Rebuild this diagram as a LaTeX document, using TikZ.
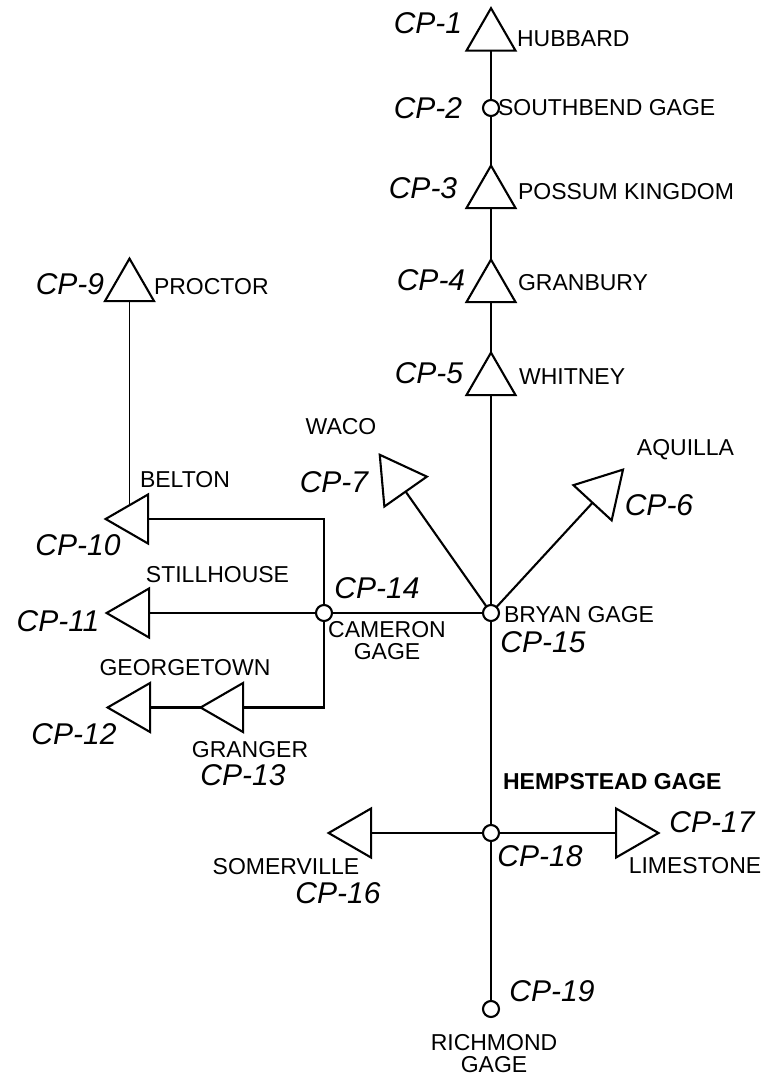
\documentclass[tikz,border=0pt]{standalone}
\usepackage{fontspec}
\setmainfont{Liberation Sans}
\usetikzlibrary{shapes.geometric}
\begin{document}
\begin{tikzpicture}[x=1pt,y=1pt,line width=2.1pt,
  res/.style={draw, regular polygon, regular polygon sides=3, minimum size=56.6pt, inner sep=0pt, outer sep=0pt},
  resd/.style={res, minimum size=60pt},
  gage/.style={draw, circle, minimum size=16pt, inner sep=0pt, outer sep=0pt, fill=white},
  nm/.style={font=\fontsize{23}{22}\selectfont, inner sep=0pt, align=center},
  nmb/.style={nm, font=\fontsize{23}{22}\selectfont\bfseries},
  cp/.style={font=\fontsize{30}{30}\selectfont\itshape, inner sep=0pt},
  conn/.style={line width=2.1pt}]
\useasboundingbox (0,0) rectangle (768,-1079);

% reservoirs (triangles) and gages (circles)
\node[res] (cp1) at (491,-36.5) {};
\node[gage] (cp2) at (491,-108) {};
\node[res] (cp3) at (491,-193.9) {};
\node[res] (cp4) at (491,-287.9) {};
\node[res] (cp5) at (491,-380.9) {};
\node[resd, rotate=-42.6] (cp6) at (602.7,-491.7) {};
\node[resd, rotate=35.1] (cp7) at (397,-479.3) {};
\node[res] (cp9) at (129.5,-286.9) {};
\node[res, rotate=90] (cp10) at (133.9,-519) {};
\node[res, rotate=90] (cp11) at (134.9,-613) {};
\node[res, rotate=90] (cp12) at (135.9,-707.5) {};
\node[res, rotate=90] (cp13) at (228.9,-707.5) {};
\node[gage] (cp14) at (324,-613) {};
\node[gage] (cp15) at (491,-613) {};
\node[res, rotate=90] (cp16) at (356.9,-833) {};
\node[res, rotate=-90] (cp17) at (630.2,-833) {};
\node[gage] (cp18) at (491,-833) {};
\node[gage] (cp19) at (491,-1009) {};
\coordinate (b10) at (129.5,-505.2);

% connectors
\draw[conn] (cp1) -- (cp2);
\draw[conn] (cp2) -- (cp3);
\draw[conn] (cp3) -- (cp4);
\draw[conn] (cp4) -- (cp5);
\draw[conn] (cp5) -- (cp15);
\draw[conn] (cp15) -- (cp18);
\draw[conn] (cp18) -- (cp19);
\draw[conn] (cp15) -- (cp7);
\draw[conn] (cp15) -- (cp6);
\draw[conn] (cp15) -- (cp14);
\draw[conn] (cp14) -- (cp11);
\draw[conn] (cp14) -- (cp14 |- cp10) -- (cp10);
\draw[conn] (cp14) -- (cp14 |- cp13) -- (cp13);
\draw[conn] (cp13) -- (cp12);
\draw[conn, line width=1.6pt] (cp9) -- (b10);
\draw[conn] (cp18) -- (cp16);
\draw[conn] (cp18) -- (cp17);

% labels
\node[cp] (l1) at (428,-23) {CP-1};
\node[nm, anchor=west] (n1) at (516,-39) {HUBBARD};
\node[cp] (l2) at (428,-108) {CP-2};
\node[nm, anchor=west] (n2) at (497,-108) {SOUTHBEND GAGE};
\node[cp] (l3) at (423,-188) {CP-3};
\node[nm, anchor=west] (n3) at (517,-192) {POSSUM KINGDOM};
\node[cp] (l4) at (431,-280) {CP-4};
\node[nm, anchor=west] (n4) at (517,-283) {GRANBURY};
\node[cp] (l5) at (429,-373) {CP-5};
\node[nm, anchor=west] (n5) at (518,-377) {WHITNEY};
\node[cp] (l9) at (70,-284) {CP-9};
\node[nm, anchor=west] (n9) at (153,-287) {PROCTOR};
\node[nm] (n7) at (341,-427) {WACO};
\node[cp] (l7) at (334,-482) {CP-7};
\node[nm] (n6) at (685.5,-450) {AQUILLA};
\node[cp] (l6) at (659,-505) {CP-6};
\node[nm] (n10) at (185,-480) {BELTON};
\node[cp] (l10) at (78,-545) {CP-10};
\node[nm] (n11) at (217.5,-575) {STILLHOUSE};
\node[cp] (l11) at (58,-621) {CP-11};
\node[cp] (l14) at (377,-588) {CP-14};
\node[nm] (n14) at (387,-641) {CAMERON\\GAGE};
\node[nm, anchor=west] (n15) at (503,-615) {BRYAN GAGE};
\node[cp] (l15) at (543,-642) {CP-15};
\node[nm] (n12) at (185,-668) {GEORGETOWN};
\node[cp] (l12) at (74,-734) {CP-12};
\node[nm] (n13) at (250,-750) {GRANGER};
\node[cp] (l13) at (243,-775) {CP-13};
\node[nmb, anchor=west] (n18) at (502,-782) {HEMPSTEAD GAGE};
\node[cp] (l17) at (712,-822) {CP-17};
\node[nm] (n17) at (695,-866) {LIMESTONE};
\node[cp] (l18) at (540,-856) {CP-18};
\node[nm] (n16) at (286,-867) {SOMERVILLE};
\node[cp] (l16) at (338,-893) {CP-16};
\node[cp] (l19) at (552,-991) {CP-19};
\node[nm] (n19) at (494,-1054) {RICHMOND\\GAGE};
\end{tikzpicture}
\end{document}
